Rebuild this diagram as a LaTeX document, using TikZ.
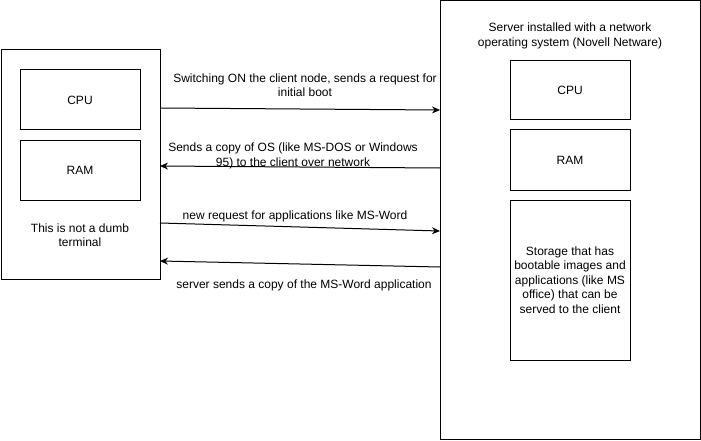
\documentclass[tikz,border=0pt]{standalone}
\usepackage{fontspec}
\setmainfont{Liberation Sans}
\usetikzlibrary{arrows.meta}
\begin{document}
\begin{tikzpicture}[x=1pt,y=-1pt,
  font=\fontsize{12}{14.5}\selectfont,
  box/.style={draw=black,line width=1pt,fill=white,inner sep=0pt,align=center},
  lbl/.style={inner sep=0pt,align=center},
  arr/.style={draw=black,line width=1pt,-{Stealth[length=8pt,width=7pt]}}]
\useasboundingbox[fill=white] (0,0) rectangle (701,441);
% client
\node[box,minimum width=159pt,minimum height=229pt] (client) at (80.5,164.5) {};
\node[box,minimum width=120pt,minimum height=60pt] (ccpu) at (80,100) {CPU};
\node[box,minimum width=120pt,minimum height=60pt] (cram) at (80,170) {RAM};
\node[lbl] (cnote) at (80,235) {This is not a dumb\\terminal};
% server
\node[box,minimum width=260pt,minimum height=438pt] (server) at (570,220) {};
\node[lbl] (stitle) at (570,36) {Server installed with a network\\operating system (Novell Netware)};
\node[box,minimum width=120pt,minimum height=59pt] (scpu) at (570,90.5) {CPU};
\node[box,minimum width=120pt,minimum height=60pt] (sram) at (570,160) {RAM};
\node[box,minimum width=120pt,minimum height=160pt] (sstore) at (570,280) {Storage that has\\bootable images and\\applications (like MS\\office) that can be\\served to the client};
% connector ends
\coordinate (a1s) at (160,108);
\coordinate (a1e) at (440,110);
\coordinate (a2s) at (440,168);
\coordinate (a2e) at (160,166);
\coordinate (a3s) at (160,223);
\coordinate (a3e) at (440,231);
\coordinate (a4s) at (440,267);
\coordinate (a4e) at (160,261);
\draw[arr] (a1s) -- (a1e);
\draw[arr] (a2s) -- (a2e);
\draw[arr] (a3s) -- (a3e);
\draw[arr] (a4s) -- (a4e);
% labels
\node[lbl] (l1) at (305,85) {Switching ON the client node, sends a request for\\initial boot};
\node[lbl] (l2) at (293,156) {Sends a copy of OS (like MS-DOS or Windows\\95) to the client over network};
\node[lbl] (l3) at (295,216) {new request for applications like MS-Word};
\node[lbl] (l4) at (304,285) {server sends a copy of the MS-Word application};
\end{tikzpicture}
\end{document}
